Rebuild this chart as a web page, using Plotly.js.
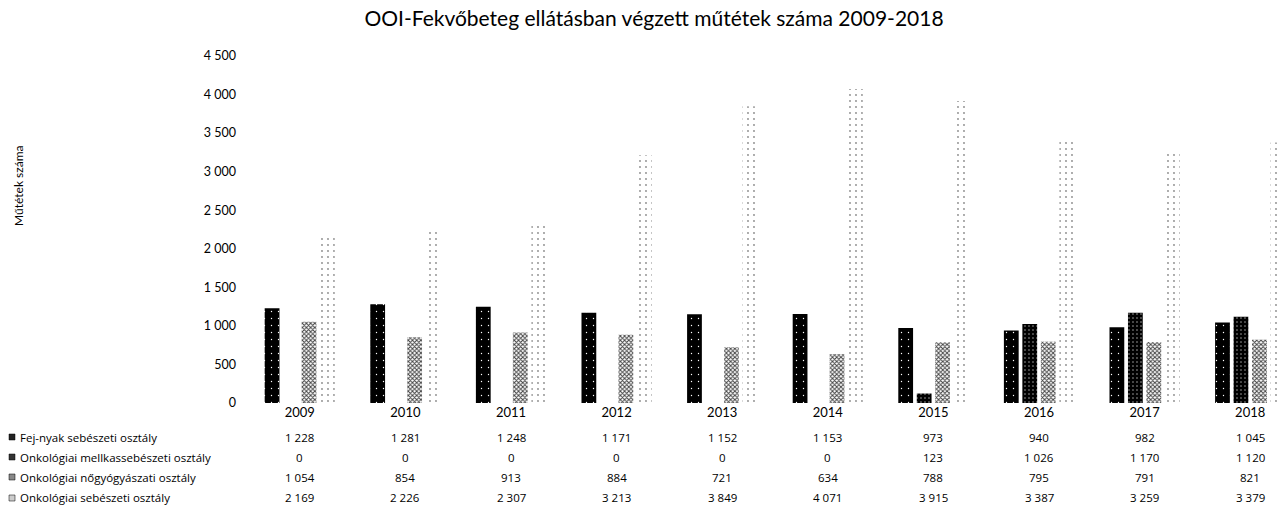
<!DOCTYPE html>
<html>
<head>
<meta charset="utf-8">
<script src="https://cdn.plot.ly/plotly-3.0.1.min.js"></script>
<style>html,body{margin:0;padding:0;background:#fff;}#chart{width:1278px;height:512px;}</style>
</head>
<body>
<div id="chart"></div>
<script>
const years = ['2009','2010','2011','2012','2013','2014','2015','2016','2017','2018'];
const seriesNames = ['Fej-nyak sebészeti osztály','Onkológiai mellkassebészeti osztály','Onkológiai nőgyógyászati osztály','Onkológiai sebészeti osztály'];
const fejNyak = [1228,1281,1248,1171,1152,1153,973,940,982,1045];
const mellkas = [0,0,0,0,0,0,123,1026,1170,1120];
const nogyogy = [1054,854,913,884,721,634,788,795,791,821];
const sebeszet = [2169,2226,2307,3213,3849,4071,3915,3387,3259,3379];
const yTicks = [0,500,1000,1500,2000,2500,3000,3500,4000,4500];

const allSeries = [fejNyak, mellkas, nogyogy, sebeszet];
const patterns = [
  {shape:'.', bgcolor:'#000000', fgcolor:'#ffffff', size:7, solidity:0.03, fillmode:'replace'},
  {shape:'.', bgcolor:'#000000', fgcolor:'#aaaaaa', size:4, solidity:0.12, fillmode:'replace'},
  {shape:'x', bgcolor:'#ffffff', fgcolor:'#444444', size:3, solidity:0.55, fillmode:'replace'},
  {shape:'.', bgcolor:'#ffffff', fgcolor:'#888888', size:6, solidity:0.07, fillmode:'replace'}
];
const keyColors = ['#222','#333','#888','#ccc'];
const FONT = 'Lato, "Open Sans", sans-serif';
const TFONT = '"Open Sans", Lato, sans-serif';

const xIdx = years.map((_, i) => i);
const traces = allSeries.map((vals, k) => ({
  type:'bar', x: xIdx, y: vals, name: seriesNames[k],
  marker:{color: patterns[k].bgcolor, pattern: patterns[k], line:{width:0}},
  hoverinfo:'y+name'
}));

function fmt(v){ return String(v).replace(/\B(?=(\d{3})+(?!\d))/g, ' '); }

const L = 247, W = 1278, H = 512, T = 56, B = 109;
const plotW = W - L, plotH = H - T - B;
const px2paperX = px => (px - L) / plotW;
const px2paperY = py => (H - B - py) / plotH;

const rowY = [437, 457, 477, 498];
const annotations = [];
const shapes = [];
allSeries.forEach((vals, k) => {
  annotations.push({xref:'paper', yref:'paper', x: px2paperX(18), y: px2paperY(rowY[k]),
    xanchor:'left', yanchor:'middle', text: seriesNames[k], showarrow:false,
    font:{family:TFONT, size:11.5, color:'#000'}});
  shapes.push({type:'rect', xref:'paper', yref:'paper',
    x0: px2paperX(9), x1: px2paperX(15), y0: px2paperY(rowY[k]+3), y1: px2paperY(rowY[k]-3),
    fillcolor: keyColors[k], line:{width:0.5, color:'#000'}});
  vals.forEach((v, i) => {
    annotations.push({xref:'x', yref:'paper', x: i, y: px2paperY(rowY[k]),
      xanchor:'center', yanchor:'middle', text: fmt(v), showarrow:false,
      font:{family:TFONT, size:11.5, color:'#000'}});
  });
});
annotations.push({xref:'paper', yref:'paper', x: px2paperX(18), y: px2paperY(186),
  xanchor:'center', yanchor:'middle', text:'Műtétek száma', textangle:-90, showarrow:false,
  font:{family:FONT, size:12, color:'#000'}});

const layout = {
  width: W, height: H,
  margin:{l:L, r:0, t:T, b:B, pad:0},
  paper_bgcolor:'#fff', plot_bgcolor:'#fff',
  title:{text:'OOI-Fekvőbeteg ellátásban végzett műtétek száma 2009-2018',
    font:{family:FONT, size:21, color:'#000'},
    x: 654 / W, xref:'container', xanchor:'center', y: 1 - 19/H, yref:'container', yanchor:'middle'},
  separators:', ',
  barmode:'group', bargap:0.3, bargroupgap:0.2,
  showlegend:false,
  xaxis:{range:[-0.5, -0.5 + plotW/105.6], tickmode:'array', tickvals: xIdx, ticktext: years,
    showgrid:false, zeroline:false, showline:false, ticks:'',
    tickfont:{family:FONT, size:13, color:'#000'}, fixedrange:true},
  yaxis:{range:[0,4500], tickmode:'array', tickvals:yTicks, separatethousands:true,
    tickformat:',d', showgrid:false, zeroline:false, showline:false, ticks:'',
    ticklabelstandoff:10,
    tickfont:{family:FONT, size:12.5, color:'#000'}, fixedrange:true},
  annotations: annotations,
  shapes: shapes
};

Plotly.newPlot('chart', traces, layout, {displayModeBar:false, staticPlot:true});
</script>
</body>
</html>
